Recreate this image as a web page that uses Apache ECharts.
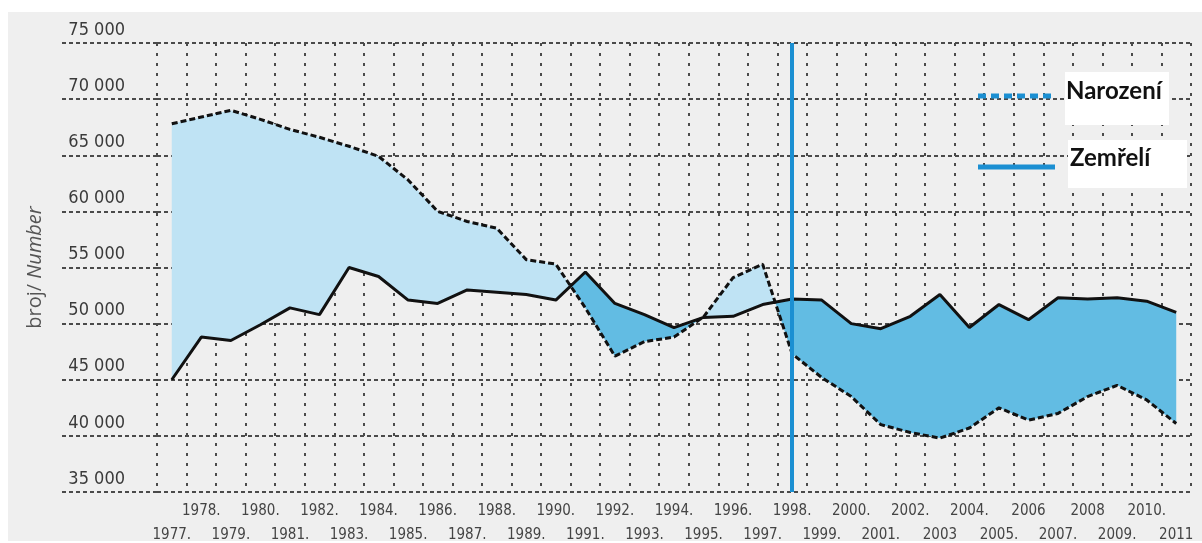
<!DOCTYPE html>
<html>
<head>
<meta charset="utf-8">
<script src="https://cdn.jsdelivr.net/npm/echarts@6/dist/echarts.min.js"></script>
<style>
html,body{margin:0;padding:0;background:#fff;}
#chart{width:1202px;height:543px;}
</style>
</head>
<body>
<div id="chart"></div>
<script>
// ---- data ----
const years = ['1977','1978','1979','1980','1981','1982','1983','1984','1985','1986','1987','1988','1989','1990','1991','1992','1993','1994','1995','1996','1997','1998','1999','2000','2001','2002','2003','2004','2005','2006','2007','2008','2009','2010','2011'];
const yearLabels = ['1977.','1978.','1979.','1980.','1981.','1982.','1983.','1984.','1985.','1986.','1987.','1988.','1989.','1990.','1991.','1992.','1993.','1994.','1995.','1996.','1997.','1998.','1999.','2000.','2001.','2002.','2003','2004.','2005.','2006','2007.','2008','2009.','2010.','2011'];
const births = [67800,68400,69000,68200,67300,66600,65800,64900,62800,60000,59100,58500,55700,55300,51400,47100,48400,48800,50600,54100,55300,47300,45200,43500,41000,40300,39800,40700,42500,41400,42000,43500,44500,43200,41100];
const deaths = [45000,48800,48500,49900,51400,50800,55000,54200,52100,51800,53000,52800,52600,52100,54600,51800,50800,49650,50550,50650,51700,52200,52100,50000,49550,50650,52600,49650,51700,50350,52300,52200,52300,52000,51000];
const yTicks = {min:35000, max:75000, step:5000};
const markYear = '1998';
const seriesNames = ['Narození','Zemřelí'];

const chart = echarts.init(document.getElementById('chart'));

const gridColor = '#4a4a4a';
const labelFont = "'DejaVu Sans Condensed','Liberation Sans Narrow','DejaVu Sans',sans-serif";

function fillItem(params, api){
  const n = births.length;
  const B = births.map((v,i)=>api.coord([i,v]));
  const D = deaths.map((v,i)=>api.coord([i,v]));
  const children = [];
  let top = [B[0]], bot = [D[0]];
  let pos = births[0]-deaths[0] >= 0;
  const push = (sign)=>{
    const pts = top.concat(bot.slice().reverse());
    children.push({type:'polygon', shape:{points:pts}, style:{fill: sign ? '#bfe3f4' : '#62bce3', stroke:null}});
  };
  for(let i=0;i<n-1;i++){
    const d0 = births[i]-deaths[i], d1 = births[i+1]-deaths[i+1];
    if((d0>=0) !== (d1>=0)){
      const t = d0/(d0-d1);
      const P = [B[i][0]+(B[i+1][0]-B[i][0])*t, B[i][1]+(B[i+1][1]-B[i][1])*t];
      top.push(P); bot.push(P);
      push(pos);
      top=[P]; bot=[P]; pos = d1>=0;
    }
    top.push(B[i+1]); bot.push(D[i+1]);
  }
  push(pos);
  return {type:'group', children};
}

const legendFont = "bold 24px Lato, 'Open Sans', sans-serif";

const option = {
  backgroundColor:'#ffffff',
  animation:false,
  graphic:[
    {type:'rect', z:-100, silent:true, shape:{x:8,y:12,width:1194,height:529}, style:{fill:'#efefef'}},
    {type:'line', z:100, shape:{x1:978,y1:96,x2:1055,y2:96}, style:{stroke:'#1b8fd2', lineWidth:5, lineDash:[8,5]}},
    {type:'line', z:100, shape:{x1:978,y1:167,x2:1055,y2:167}, style:{stroke:'#1b8fd2', lineWidth:5}},
    {type:'rect', z:100, shape:{x:1065,y:72,width:104,height:53}, style:{fill:'#ffffff'}},
    {type:'rect', z:100, shape:{x:1068,y:140,width:119,height:48}, style:{fill:'#ffffff'}},
    {type:'text', z:101, style:{x:1066,y:91,text:seriesNames[0], font:legendFont, fill:'#111', textVerticalAlign:'middle'}},
    {type:'text', z:101, style:{x:1070,y:158,text:seriesNames[1], font:legendFont, fill:'#111', textVerticalAlign:'middle'}}
  ],
  grid:{left:157, right:11, top:43, bottom:51, containLabel:false},
  xAxis:[
    {type:'category', data:years, boundaryGap:true, position:'bottom',
     axisLine:{show:false}, axisTick:{show:false},
     splitLine:{show:true, interval:0, lineStyle:{color:gridColor, width:2, type:[3,7]}},
     axisLabel:{interval:0, margin:36, color:'#444', fontSize:15, fontFamily:labelFont,
       formatter:(v,i)=> i%2===0 ? yearLabels[i] : ''}},
    {type:'category', data:years, boundaryGap:true, position:'bottom', offset:0,
     axisLine:{show:false}, axisTick:{show:false}, splitLine:{show:false},
     axisLabel:{interval:0, margin:12, color:'#444', fontSize:15, fontFamily:labelFont,
       formatter:(v,i)=> i%2===1 ? yearLabels[i] : ''}}
  ],
  yAxis:{type:'value', min:yTicks.min, max:yTicks.max, interval:yTicks.step,
    name:'{a|broj/ }{b|Number}', nameLocation:'middle', nameRotate:90, nameGap:112,
    nameTextStyle:{rich:{a:{fontSize:20, color:'#555', fontFamily:"'Open Sans',sans-serif"}, b:{fontSize:20, color:'#555', fontStyle:'italic', fontFamily:"'Open Sans',sans-serif"}}},
    axisLine:{show:false},
    axisTick:{show:true, length:97, lineStyle:{color:gridColor, width:1.8, type:[4,3]}},
    splitLine:{show:true, lineStyle:{color:gridColor, width:1.8, type:[4,3]}},
    axisLabel:{margin:32, color:'#3a3a3a', fontSize:18, fontFamily:labelFont, verticalAlign:'bottom', padding:[0,0,4,0],
      formatter:v=>String(v).replace(/\B(?=(\d{3})+(?!\d))/g,' ')}
  },
  series:[
    {type:'custom', name:'fill', coordinateSystem:'cartesian2d', data:[[0,50000]], renderItem:fillItem, z:1, silent:true, clip:false},
    {type:'line', name:seriesNames[0], data:births, symbol:'none', z:3,
     lineStyle:{color:'#111', width:3, type:[6,3]}},
    {type:'line', name:seriesNames[1], data:deaths, symbol:'none', z:4,
     lineStyle:{color:'#111', width:3},
     markLine:{silent:true, symbol:['none','none'], label:{show:false},
       lineStyle:{color:'#1b8fd2', width:4, type:'solid'}, data:[{xAxis:markYear}]}}
  ]
};
chart.setOption(option);
</script>
</body>
</html>
